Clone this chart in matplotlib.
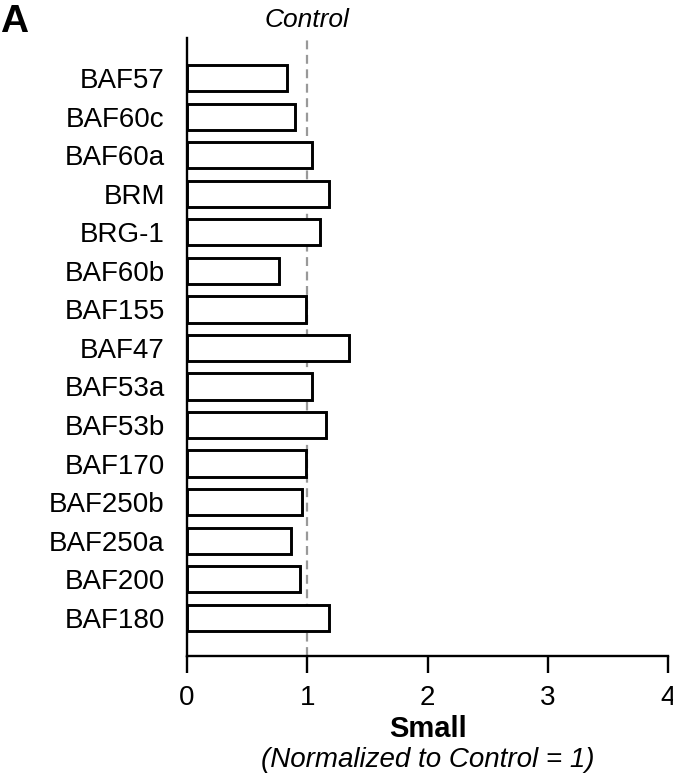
import matplotlib.pyplot as plt

plt.rcParams['font.family'] = ['Liberation Sans', 'DejaVu Sans']

# subunits, top to bottom
labels = ["BAF57", "BAF60c", "BAF60a", "BRM", "BRG-1", "BAF60b", "BAF155",
          "BAF47", "BAF53a", "BAF53b", "BAF170", "BAF250b", "BAF250a",
          "BAF200", "BAF180"]
values = [0.835, 0.896, 1.035, 1.181, 1.104, 0.765, 0.993,
          1.348, 1.035, 1.154, 0.985, 0.952, 0.863, 0.938, 1.179]
xticks = [0, 1, 2, 3, 4]

fig = plt.figure(figsize=(6.73, 7.78), dpi=100)
ax = fig.add_axes([0.278, 0.157, 0.9926 - 0.278, 0.951 - 0.157])

pos = list(range(len(labels)))
ax.axvline(1, color='#999999', lw=1.6, ls=(0, (4, 2.5)), zorder=1)
ax.barh(pos, values, height=0.68, color='white', edgecolor='black',
        linewidth=2.1, zorder=2)

ax.set_ylim(14.99, -1.04)
ax.set_xlim(0, 4)
ax.set_xticks(xticks)
ax.set_yticks(pos)
ax.set_yticklabels(labels)

for side in ['top', 'right']:
    ax.spines[side].set_visible(False)
for side in ['left', 'bottom']:
    ax.spines[side].set_linewidth(1.7)

ax.tick_params(axis='y', length=0, pad=16, labelsize=20)
ax.tick_params(axis='x', length=12, width=1.7, pad=9, labelsize=20)

ax.text(1, -1.5, "Control", ha='center', va='center', fontsize=19,
        style='italic')
fig.text(0.0, 0.972, "A", fontsize=28, fontweight='bold', va='center')
fig.text(428 / 673, 1 - 729 / 778, "Small", fontsize=21, fontweight='bold',
         ha='center', va='center')
fig.text(428 / 673, 1 - 760 / 778, "(Normalized to Control = 1)", fontsize=20,
         style='italic', ha='center', va='center')

fig.savefig("out.png", dpi=100)
